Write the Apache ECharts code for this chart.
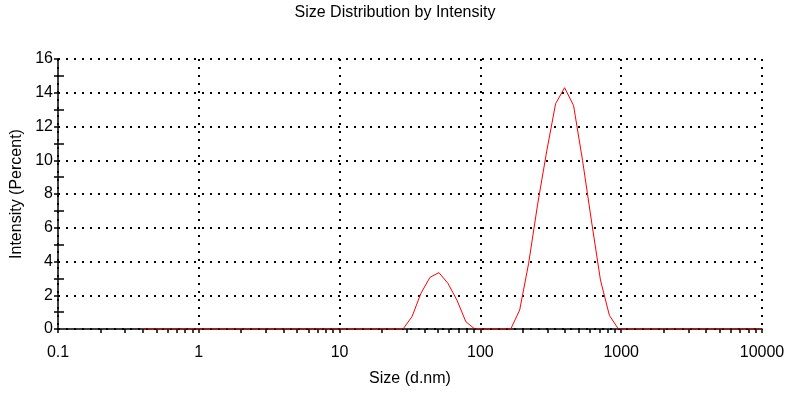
<!DOCTYPE html>
<html>
<head>
<meta charset="utf-8">
<script src="https://cdn.jsdelivr.net/npm/echarts@6/dist/echarts.min.js"></script>
<style>
html,body{margin:0;padding:0;background:#fff;}
#chart{width:793px;height:395px;}
</style>
</head>
<body>
<div id="chart"></div>
<script>
// Size bins (d.nm)
var sizes = [0.4, 0.4632, 0.5365, 0.6213, 0.7195, 0.8332, 0.9649, 1.117, 1.294, 1.499,
  1.736, 2.010, 2.328, 2.696, 3.122, 3.615, 4.187, 4.849, 5.615, 6.503,
  7.531, 8.721, 10.10, 11.70, 13.54, 15.69, 18.17, 21.04, 24.36, 28.21,
  32.67, 37.84, 43.82, 50.75, 58.77, 68.06, 78.82, 91.28, 105.7, 122.4,
  141.8, 164.2, 190.1, 220.2, 255.0, 295.3, 342.0, 396.1, 458.7, 531.2,
  615.1, 712.4, 825.0, 955.4, 1106, 1281, 1484, 1718, 1990, 2305,
  2669, 3091, 3580, 4145, 4801, 5560, 6439, 7456, 8635, 10000];
// Intensity (Percent)
var intensity = [0, 0, 0, 0, 0, 0, 0, 0, 0, 0,
  0, 0, 0, 0, 0, 0, 0, 0, 0, 0,
  0, 0, 0, 0, 0, 0, 0, 0, 0, 0,
  0.73, 2.12, 3.06, 3.34, 2.71, 1.72, 0.43, 0, 0, 0,
  0, 0, 1.12, 3.9, 7.4, 10.5, 13.35, 14.3, 13.25, 10.0,
  6.4, 2.9, 0.8, 0, 0, 0, 0, 0, 0, 0,
  0, 0, 0, 0, 0, 0, 0, 0, 0, 0];
var xTickLabels = ['0.1', '1', '10', '100', '1000', '10000'];
var yTicks = [0, 2, 4, 6, 8, 10, 12, 14, 16];
var xMinorTicks = [];
[0.1, 1, 10, 100, 1000].forEach(function (d) {
  for (var k = 2; k <= 9; k++) xMinorTicks.push(Math.log10(d * k));
});

var chart = echarts.init(document.getElementById('chart'), null, {renderer: 'canvas'});
var font = 'Liberation Sans, Arial, Helvetica, sans-serif';
var dotted = {color: '#000', width: 2, type: [2, 6]};
chart.setOption({
  animation: false,
  backgroundColor: '#fff',
  title: {
    text: 'Size Distribution by Intensity',
    left: 390, top: 0, textAlign: 'center',
    textStyle: {fontFamily: font, fontSize: 16, fontWeight: 'normal', color: '#000'}
  },
  grid: {left: 58, right: 31, top: 59, bottom: 66, containLabel: false},
  xAxis: [{
    type: 'log', logBase: 10, min: 0.1, max: 10000,
    name: 'Size (d.nm)', nameLocation: 'middle', nameGap: 42,
    nameTextStyle: {fontFamily: font, fontSize: 16, color: '#000'},
    axisLine: {show: true, onZero: false, lineStyle: {color: '#000', width: 1.5}},
    axisTick: {show: true, length: 4, lineStyle: {color: '#000', width: 1.5}},
    axisLabel: {
      fontFamily: font, fontSize: 16, color: '#000', margin: 16,
      formatter: function (v, i) { return xTickLabels[i]; }
    },
    splitLine: {show: true, lineStyle: dotted},
    minorTick: {show: false}
  }, {
    type: 'value', min: -1, max: 4, position: 'bottom',
    axisLine: {show: false, onZero: false},
    axisTick: {show: true, length: 4, customValues: xMinorTicks, lineStyle: {color: '#000', width: 1.5}},
    axisLabel: {show: false},
    splitLine: {show: false}
  }],
  yAxis: [{
    type: 'value', min: 0, max: 16, interval: 2,
    name: 'Intensity (Percent)', nameLocation: 'middle', nameGap: 32,
    nameTextStyle: {fontFamily: font, fontSize: 16, color: '#000'},
    axisLine: {show: true, onZero: false, lineStyle: {color: '#000', width: 1.5}},
    axisTick: {show: true, length: 4, lineStyle: {color: '#000', width: 1.5}},
    minorTick: {show: true, splitNumber: 2, length: 4, lineStyle: {color: '#000', width: 1.5}},
    axisLabel: {
      fontFamily: font, fontSize: 16, color: '#000', margin: 5,
      formatter: function (v) { return yTicks.indexOf(v) >= 0 ? String(v) : ''; }
    },
    splitLine: {show: true, lineStyle: dotted}
  }, {
    type: 'value', min: 0, max: 16, interval: 2, position: 'left',
    axisLine: {show: false, onZero: false},
    axisTick: {show: false, inside: true},
    minorTick: {show: true, splitNumber: 2, length: 6, lineStyle: {color: '#000', width: 1.5}},
    axisLabel: {show: false},
    splitLine: {show: false}
  }],
  series: [{
    type: 'line',
    xAxisIndex: 0, yAxisIndex: 0,
    data: sizes.map(function (s, i) { return [s, intensity[i]]; }),
    showSymbol: false, symbol: 'none',
    lineStyle: {color: '#ff0000', width: 1},
    itemStyle: {color: '#ff0000'},
    z: 5
  }]
});
</script>
</body>
</html>
